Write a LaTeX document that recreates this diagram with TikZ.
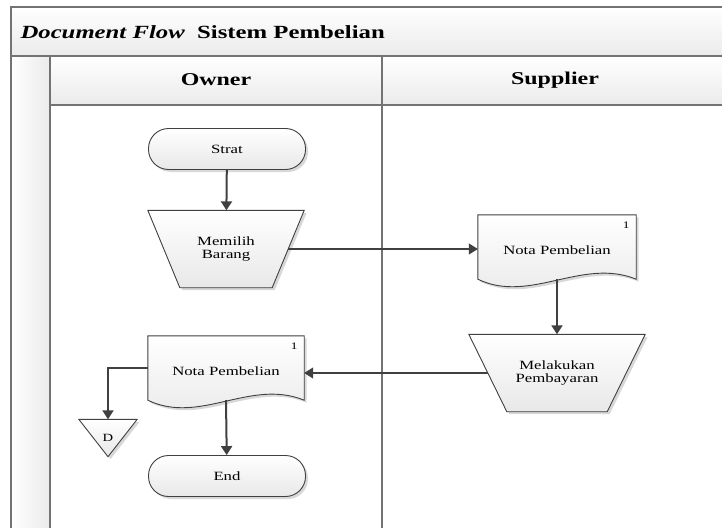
\documentclass[tikz,border=0pt]{standalone}
\usepackage{fontspec}
\setmainfont[FakeStretch=1.33]{Liberation Serif}
\usetikzlibrary{arrows.meta,shapes.geometric,shadows}

\newcommand\docshape[2]{%
   \draw[shapebox] (#1.north west) -- (#1.north east) -- (#1.south east)
      .. controls +(-54,-22) and +(52,25) .. (#1.south west) -- cycle;
   \node[textfont] at ([yshift=-3pt]#1) {#2};
   \node[font=\fontsize{10}{12}\selectfont] at ([xshift=-10pt,yshift=-10pt]#1.north east) {1};
}
\newcommand\manshape[3]{%
   \draw[shapebox] (#1.north west) -- (#1.north east) -- ([xshift=-#2]#1.south east)
      -- ([xshift=#2]#1.south west) -- cycle;
   \node[textfont] at (#1) {#3};
}

\begin{document}
\begin{tikzpicture}[x=1pt,y=-1pt]
   \tikzset{frame/.style = {draw=black!55, line width=1.2pt},
            band/.style = {top color=white, bottom color=black!8},
            shapebox/.style = {draw=black!75, line width=0.9pt, top color=white, bottom color=black!9,
               drop shadow={shadow xshift=2.5pt, shadow yshift=-2.5pt, fill=black!30, opacity=0.5}},
            textfont/.style = {font=\fontsize{12.6}{13.5}\selectfont, align=center},
            terminal/.style = {shapebox, textfont, rectangle, rounded corners=20pt,
               minimum width=157pt, minimum height=41pt},
            manbox/.style = {rectangle, minimum height=77pt},
            docbox/.style = {rectangle, minimum height=64pt},
            flowthick/.style = {draw=black!75, line width=2pt, -{Triangle[length=9pt,width=11pt]}},
            flowthin/.style = {draw=black!75, line width=1.2pt, -{Triangle[length=9pt,width=11pt]}}}
   \clip (0,0) rectangle (722,527);
   % swimlane frame
   \fill[band] (11,7) rectangle (730,56);
   \fill[band] (50,56) rectangle (730,105);
   \fill[left color=white, right color=black!8] (11,56) rectangle (50,530);
   \draw[frame] (730,7) -- (11,7) -- (11,530);
   \draw[frame] (11,56) -- (730,56);
   \draw[frame] (50,105) -- (730,105);
   \draw[frame] (50,56) -- (50,530);
   \draw[frame] (382,56) -- (382,530);
   \node[anchor=west, font=\fontsize{18.6}{20}\selectfont\bfseries] (title) at (17,32)
      {\textit{Document Flow}\ \ Sistem Pembelian};
   \node[font=\fontsize{18}{20}\selectfont\bfseries] (owner) at (216,80) {Owner};
   \node[font=\fontsize{18}{20}\selectfont\bfseries] (supplier) at (555,80) {Supplier};
   % owner
   \node[terminal] (strat) at (227,149) {Strat};
   \node[manbox, minimum width=156pt] (memilih) at (226,249) {};
   \manshape{memilih}{32pt}{Memilih\\Barang}
   \node[docbox, minimum width=156pt] (notaO) at (226,368) {};
   \docshape{notaO}{Nota Pembelian}
   \node[rectangle, minimum width=58pt, minimum height=37pt] (dtri) at (108,438) {};
   \draw[shapebox] (dtri.north west) -- (dtri.north east) -- (dtri.south) -- cycle;
   \node[font=\fontsize{11}{12}\selectfont] at (dtri) {D};
   \node[terminal] (end) at (227,476) {End};
   % supplier
   \node[docbox, minimum width=158pt] (notaS) at (557,247) {};
   \docshape{notaS}{Nota Pembelian}
   \node[manbox, minimum width=176pt] (melakukan) at (557,373) {};
   \manshape{melakukan}{38pt}{Melakukan\\Pembayaran}
   % connectors
   \draw[flowthick] (strat) -- (memilih);
   \draw[flowthin] ([xshift=-16pt]memilih.east) -- (notaS.west |- memilih.east);
   \draw[flowthick] (notaS.south) -- (melakukan.north);
   \draw[flowthin] ([xshift=19pt]melakukan.west) -- (notaO.east |- melakukan.west);
   \draw[flowthick] (notaO.west) -| (dtri.north);
   \draw[flowthick] (notaO.south) -- (end);
\end{tikzpicture}
\end{document}
